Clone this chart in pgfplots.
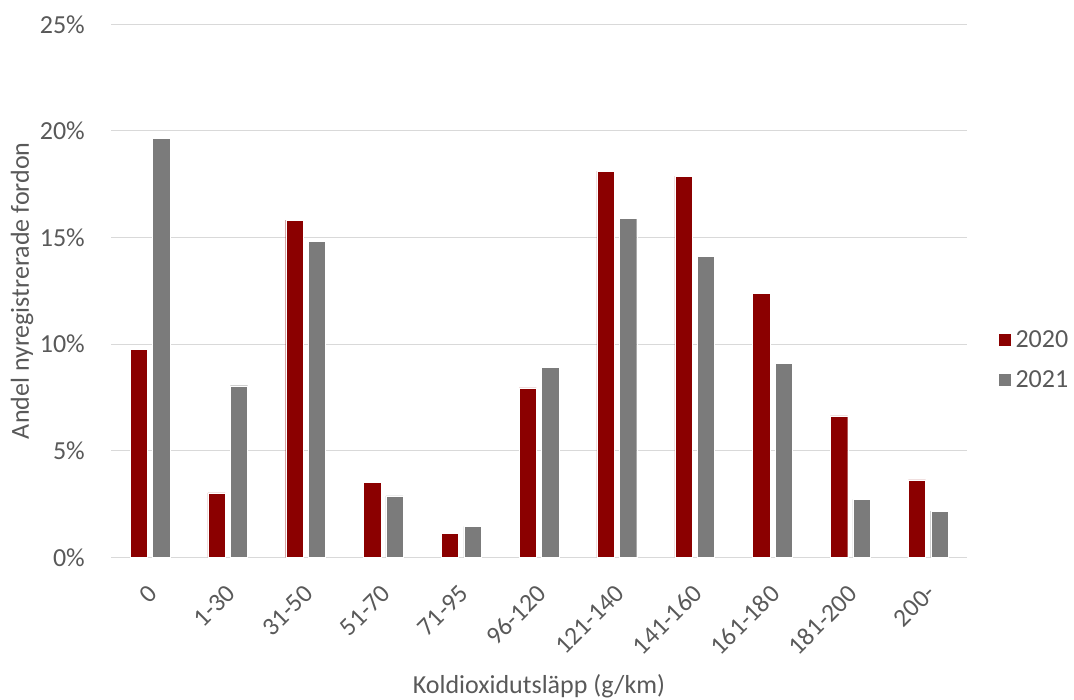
\documentclass[border=0pt]{standalone}
\usepackage{graphicx}
\usepackage{pgfplots}
\pgfplotsset{compat=1.18}
\usepackage{fontspec}
\setmainfont{Carlito}
\definecolor{cred}{HTML}{8B0000}
\definecolor{cgray}{HTML}{7B7B7B}
\definecolor{cgrid}{HTML}{D9D9D9}
\definecolor{ctext}{HTML}{595959}
\newcommand{\rl}[1]{\rotatebox{45}{#1}}
\begin{document}
\begin{tikzpicture}[font=\fontsize{26}{31}\selectfont]
\path[use as bounding box] (0,0) rectangle (1074pt,700pt);
\begin{axis}[
  at={(111pt,142.7pt)}, anchor=south west,
  width=856pt, height=533pt, scale only axis,
  xmin=-0.5, xmax=10.5, ymin=0, ymax=25,
  ybar, bar width=0.222,
  axis line style={draw=none},
  major tick length=0pt,
  ymajorgrids, grid style={cgrid, line width=1pt},
  ytick={0,5,10,15,20,25},
  yticklabels={0\%,5\%,10\%,15\%,20\%,25\%},
  xtick={0,1,2,3,4,5,6,7,8,9,10},
  xticklabels={\rl{0},\rl{1-30},\rl{31-50},\rl{51-70},\rl{71-95},\rl{96-120},\rl{121-140},\rl{141-160},\rl{161-180},\rl{181-200},\rl{200-}},
  tick label style={text=ctext},
  yticklabel style={inner sep=0pt, xshift=-26pt},
  xticklabel style={inner sep=0pt, anchor=north east, xshift=9pt, yshift=-26pt, font=\fontsize{25.5}{30}\selectfont},
  xlabel={Koldioxidutsläpp (g/km)},
  ylabel={Andel nyregistrerade fordon},
  label style={text=ctext},
  xlabel style={at={(axis description cs:0.5,-0.2415)}, anchor=center},
  ylabel style={at={(axis description cs:-0.104,0.5)}, anchor=center},
  legend style={at={(axis description cs:1,0.371)}, anchor=west, xshift=28pt, draw=none, fill=none, row sep=14pt, text=ctext, nodes={inner sep=4pt}},
  legend cell align=left,
  legend image code/.code={\fill[#1] (0pt,-6.5pt) rectangle (13pt,6.5pt);},
]
\addplot[fill=cred, draw=white, line width=0.3pt, bar shift=-0.144] coordinates {
(0,9.75) (1,3.02) (2,15.81) (3,3.53) (4,1.13) (5,7.95) (6,18.11) (7,17.88) (8,12.39) (9,6.63) (10,3.63)};
\addlegendentry{2020}
\addplot[fill=cgray, draw=white, line width=0.3pt, bar shift=0.144] coordinates {
(0,19.64) (1,8.05) (2,14.81) (3,2.88) (4,1.45) (5,8.91) (6,15.89) (7,14.13) (8,9.09) (9,2.72) (10,2.17)};
\addlegendentry{2021}
\end{axis}
\end{tikzpicture}
\end{document}
